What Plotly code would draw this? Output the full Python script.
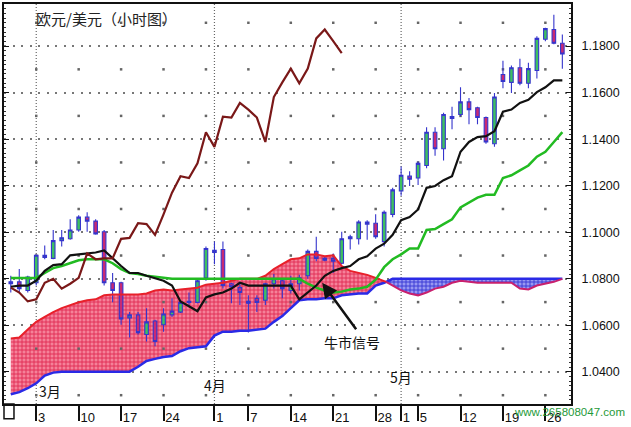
import plotly.graph_objects as go
import pandas as pd

# ---- categories (trading days) ----
dates = [d.strftime("%Y-%m-%d") for d in pd.bdate_range("2003-02-26", "2003-05-28")]

# ---- candles ----
opens = [1.0779, 1.0787, 1.0750, 1.0783, 1.0892, 1.0888, 1.0964, 1.0972, 1.1010, 1.1065,
         1.1048, 1.1002, 1.0783, 1.0783, 1.0632, 1.0645, 1.0561, 1.0619, 1.0603, 1.0645,
         1.0657, 1.0703, 1.0699, 1.0804, 1.0922, 1.0926, 1.0779, 1.0762, 1.0703, 1.0716,
         1.0708, 1.0779, 1.0792, 1.0750, 1.0779, 1.0813, 1.0918, 1.0888, 1.0888, 1.0867,
         1.0972, 1.0972, 1.1044, 1.1039, 1.0960, 1.1077, 1.1178, 1.1241, 1.1233, 1.1287,
         1.1430, 1.1359, 1.1497, 1.1506, 1.1560, 1.1535, 1.1493, 1.1380, 1.1678, 1.1644,
         1.1707, 1.1640, 1.1695, 1.1829, 1.1871, 1.1812]
highs = [1.0813, 1.0842, 1.0813, 1.0905, 1.0943, 1.1010, 1.1010, 1.1056, 1.1073, 1.1086,
         1.1056, 1.1010, 1.0825, 1.0787, 1.0657, 1.0657, 1.0674, 1.0624, 1.0674, 1.0716,
         1.0708, 1.0741, 1.0800, 1.0939, 1.0960, 1.0960, 1.0783, 1.0779, 1.0729, 1.0729,
         1.0783, 1.0821, 1.0800, 1.0813, 1.0817, 1.0926, 1.0981, 1.0897, 1.0909, 1.1002,
         1.0989, 1.1052, 1.1052, 1.1077, 1.1094, 1.1191, 1.1283, 1.1262, 1.1304, 1.1451,
         1.1451, 1.1514, 1.1539, 1.1623, 1.1577, 1.1539, 1.1497, 1.1598, 1.1737, 1.1716,
         1.1745, 1.1728, 1.1842, 1.1879, 1.1934, 1.1850]
lows = [1.0741, 1.0741, 1.0741, 1.0771, 1.0884, 1.0884, 1.0939, 1.0968, 1.1002, 1.1002,
        1.0989, 1.0771, 1.0699, 1.0603, 1.0548, 1.0561, 1.0531, 1.0510, 1.0573, 1.0636,
        1.0653, 1.0678, 1.0695, 1.0792, 1.0863, 1.0758, 1.0695, 1.0687, 1.0569, 1.0657,
        1.0687, 1.0758, 1.0716, 1.0737, 1.0750, 1.0800, 1.0876, 1.0876, 1.0825, 1.0863,
        1.0926, 1.0947, 1.0968, 1.0972, 1.0939, 1.1065, 1.1157, 1.1199, 1.1203, 1.1275,
        1.1329, 1.1308, 1.1443, 1.1497, 1.1464, 1.1464, 1.1380, 1.1367, 1.1619, 1.1598,
        1.1632, 1.1619, 1.1661, 1.1821, 1.1808, 1.1703]
closes = [1.0787, 1.0758, 1.0808, 1.0901, 1.0901, 1.0964, 1.0976, 1.1010, 1.1065, 1.1048,
          1.0993, 1.0783, 1.0750, 1.0628, 1.0645, 1.0569, 1.0615, 1.0531, 1.0649, 1.0661,
          1.0699, 1.0699, 1.0792, 1.0930, 1.0913, 1.0771, 1.0766, 1.0741, 1.0695, 1.0699,
          1.0779, 1.0800, 1.0758, 1.0779, 1.0804, 1.0918, 1.0888, 1.0880, 1.0876, 1.0972,
          1.0981, 1.1044, 1.1035, 1.0981, 1.1086, 1.1182, 1.1245, 1.1228, 1.1296, 1.1430,
          1.1359, 1.1506, 1.1489, 1.1560, 1.1527, 1.1493, 1.1388, 1.1581, 1.1648, 1.1707,
          1.1640, 1.1703, 1.1833, 1.1875, 1.1812, 1.1766]

# ---- Ichimoku lines ----
tenkan = [1.0766, 1.0771, 1.0771, 1.0792, 1.0834, 1.0859, 1.0863, 1.0901, 1.0905, 1.0909,
          1.0913, 1.0922, 1.0888, 1.0855, 1.0825, 1.0825, 1.0813, 1.0804, 1.0792, 1.0771,
          1.0703, 1.0682, 1.0661, 1.0720, 1.0733, 1.0741, 1.0758, 1.0783, 1.0771, 1.0771,
          1.0771, 1.0771, 1.0771, 1.0771, 1.0712, 1.0741, 1.0771, 1.0813, 1.0834, 1.0846,
          1.0855, 1.0884, 1.0897, 1.0930, 1.0951, 1.0989, 1.1052, 1.1065, 1.1098, 1.1191,
          1.1199, 1.1224, 1.1241, 1.1346, 1.1388, 1.1409, 1.1413, 1.1434, 1.1518, 1.1527,
          1.1556, 1.1569, 1.1602, 1.1623, 1.1653, 1.1653]
kijun = [1.0804, 1.0804, 1.0804, 1.0804, 1.0825, 1.0846, 1.0855, 1.0867, 1.0880, 1.0884,
         1.0884, 1.0884, 1.0867, 1.0842, 1.0825, 1.0821, 1.0813, 1.0808, 1.0804, 1.0800,
         1.0800, 1.0800, 1.0800, 1.0800, 1.0800, 1.0800, 1.0800, 1.0800, 1.0800, 1.0800,
         1.0800, 1.0800, 1.0800, 1.0800, 1.0800, 1.0779, 1.0762, 1.0750, 1.0741, 1.0745,
         1.0754, 1.0758, 1.0766, 1.0796, 1.0850, 1.0884, 1.0905, 1.0930, 1.0930, 1.1010,
         1.1014, 1.1035, 1.1056, 1.1107, 1.1128, 1.1149, 1.1161, 1.1161, 1.1233, 1.1245,
         1.1266, 1.1287, 1.1325, 1.1346, 1.1388, 1.1430]
chikou = [1.0762, 1.0741, 1.0703, 1.0712, 1.0783, 1.0800, 1.0758, 1.0779, 1.0804, 1.0909,
          1.0884, 1.0888, 1.0888, 1.0972, 1.0976, 1.1039, 1.1035, 1.0989, 1.1077, 1.1170,
          1.1241, 1.1233, 1.1296, 1.1430, 1.1367, 1.1497, 1.1493, 1.1556, 1.1527, 1.1493,
          1.1388, 1.1581, 1.1644, 1.1703, 1.1640, 1.1703, 1.1833, 1.1871, 1.1821, 1.1770]
span_a = [1.0544, 1.0548, 1.0582, 1.0615, 1.0636, 1.0657, 1.0674, 1.0687, 1.0699, 1.0708,
          1.0712, 1.0729, 1.0733, 1.0733, 1.0733, 1.0733, 1.0737, 1.0750, 1.0754, 1.0750,
          1.0754, 1.0758, 1.0762, 1.0775, 1.0779, 1.0783, 1.0792, 1.0800, 1.0800, 1.0800,
          1.0813, 1.0842, 1.0863, 1.0884, 1.0888, 1.0905, 1.0905, 1.0897, 1.0901, 1.0855,
          1.0834, 1.0825, 1.0817, 1.0804, 1.0792, 1.0771, 1.0750, 1.0737, 1.0729, 1.0741,
          1.0758, 1.0766, 1.0783, 1.0792, 1.0787, 1.0783, 1.0783, 1.0783, 1.0783, 1.0783,
          1.0758, 1.0754, 1.0771, 1.0779, 1.0787, 1.0800]
span_b = [1.0304, 1.0313, 1.0330, 1.0351, 1.0384, 1.0397, 1.0401, 1.0401, 1.0401, 1.0401,
          1.0401, 1.0401, 1.0401, 1.0401, 1.0401, 1.0422, 1.0447, 1.0456, 1.0464, 1.0468,
          1.0489, 1.0502, 1.0506, 1.0510, 1.0556, 1.0573, 1.0573, 1.0577, 1.0577, 1.0582,
          1.0586, 1.0615, 1.0640, 1.0674, 1.0708, 1.0712, 1.0712, 1.0716, 1.0716, 1.0729,
          1.0733, 1.0737, 1.0737, 1.0771, 1.0783, 1.0800, 1.0800, 1.0800, 1.0800, 1.0800,
          1.0800, 1.0800, 1.0800, 1.0800, 1.0800, 1.0800, 1.0800, 1.0800, 1.0800, 1.0800,
          1.0800, 1.0800, 1.0800, 1.0800, 1.0800, 1.0800]

# ---- axis labels ----
tick_dates = ["2003-03-03", "2003-03-10", "2003-03-17", "2003-03-24", "2003-04-01",
              "2003-04-07", "2003-04-14", "2003-04-21", "2003-04-28", "2003-05-01",
              "2003-05-05", "2003-05-12", "2003-05-19", "2003-05-26"]
tick_text = ["3", "10", "17", "24", "1", "7", "14", "21", "28", "1", "5", "12", "19", "26"]
month_starts = ["2003-03-03", "2003-04-01", "2003-05-01"]
month_text = ["3月", "4月", "5月"]
y_ticks = [1.04, 1.06, 1.08, 1.10, 1.12, 1.14, 1.16, 1.18]
mid_levels = [1.03, 1.05, 1.07, 1.09, 1.11, 1.13, 1.15, 1.17, 1.19]

x = list(range(len(dates)))
n = len(dates)
idx = {d: i for i, d in enumerate(dates)}

# crossover of the cloud lines
k = next(i for i in range(1, n) if (span_a[i] - span_b[i]) * (span_a[i - 1] - span_b[i - 1]) < 0)
d0 = span_a[k - 1] - span_b[k - 1]
d1 = span_a[k] - span_b[k]
t = d0 / (d0 - d1)
xc = (k - 1) + t
yc = span_b[k - 1] + t * (span_b[k] - span_b[k - 1])

x1 = x[:k] + [xc]
a1 = span_a[:k] + [yc]
b1 = span_b[:k] + [yc]
x2 = [xc] + x[k:]
a2 = [yc] + span_a[k:]
b2 = [yc] + span_b[k:]

FONT = "Liberation Sans, Arial, sans-serif"
CJK = "Noto Sans CJK SC, sans-serif"
XR = [-0.8, 66.02]
YR = [1.02622, 1.19807]

fig = go.Figure()

# cloud fills (base axes)
fig.add_trace(go.Scatter(x=x1, y=b1, mode="lines", line=dict(width=0), hoverinfo="skip", showlegend=False))
fig.add_trace(go.Scatter(x=x1, y=a1, mode="lines", line=dict(width=0), fill="tonexty",
                         fillcolor="#f27088",
                         fillpattern=dict(shape="+", size=4, solidity=0.4, fgcolor="#e02a52",
                                          bgcolor="#f58299", fillmode="replace"),
                         hoverinfo="skip", showlegend=False))
fig.add_trace(go.Scatter(x=x2, y=b2, mode="lines", line=dict(width=0), hoverinfo="skip", showlegend=False))
fig.add_trace(go.Scatter(x=x2, y=a2, mode="lines", line=dict(width=0), fill="tonexty",
                         fillcolor="#8c8cf0",
                         fillpattern=dict(shape="+", size=4, solidity=0.4, fgcolor="#3434d4",
                                          bgcolor="#9898f2", fillmode="replace"),
                         hoverinfo="skip", showlegend=False))

# grid mid dots (one per Monday)
mondays = [i for i, d in enumerate(dates) if pd.Timestamp(d).weekday() == 0]
fig.add_trace(go.Scatter(x=[m for m in mondays for _ in mid_levels],
                         y=[lv for _ in mondays for lv in mid_levels],
                         mode="markers", marker=dict(size=2.5, color="#666666", symbol="square"),
                         hoverinfo="skip", showlegend=False))

# candles (overlay axes so they sit above the cloud)
fig.add_trace(go.Candlestick(x=x, open=opens, high=highs, low=lows, close=closes,
                             increasing=dict(fillcolor="#3ec060", line=dict(color="#3535cc", width=1.1)),
                             decreasing=dict(fillcolor="#c82a74", line=dict(color="#3535cc", width=1.1)),
                             whiskerwidth=0, hoverinfo="skip", showlegend=False,
                             xaxis="x2", yaxis="y2"))

# cloud lines
fig.add_trace(go.Scatter(x=x, y=span_b, mode="lines", line=dict(color="#2a2ae6", width=2.5),
                         hoverinfo="skip", showlegend=False, xaxis="x2", yaxis="y2"))
fig.add_trace(go.Scatter(x=x1, y=a1, mode="lines", line=dict(color="#e8202a", width=2),
                         hoverinfo="skip", showlegend=False, xaxis="x2", yaxis="y2"))
fig.add_trace(go.Scatter(x=x2, y=a2, mode="lines", line=dict(color="#c8206e", width=2),
                         hoverinfo="skip", showlegend=False, xaxis="x2", yaxis="y2"))
# kijun, tenkan, chikou
fig.add_trace(go.Scatter(x=x, y=kijun, mode="lines", line=dict(color="#22bb22", width=2.5),
                         hoverinfo="skip", showlegend=False, xaxis="x2", yaxis="y2"))
fig.add_trace(go.Scatter(x=x, y=tenkan, mode="lines", line=dict(color="#111111", width=2.2),
                         hoverinfo="skip", showlegend=False, xaxis="x2", yaxis="y2"))
fig.add_trace(go.Scatter(x=x[:len(chikou)], y=chikou, mode="lines", line=dict(color="#7a1818", width=2.2),
                         hoverinfo="skip", showlegend=False, xaxis="x2", yaxis="y2"))

shapes = []
for d in month_starts:
    shapes.append(dict(type="line", xref="x", yref="paper", x0=idx[d], x1=idx[d], y0=0, y1=1,
                       line=dict(color="#666666", width=1.2, dash="1px,2px"), layer="below"))
shapes.append(dict(type="rect", xref="paper", yref="paper", x0=0, x1=0.0176, y0=-0.037, y1=0,
                   line=dict(color="#111111", width=1.5)))

annotations = [
    dict(text="欧元/美元（小时图）", xref="paper", yref="paper", x=0.0528, y=0.9633,
         xanchor="left", yanchor="middle", showarrow=False,
         font=dict(family=CJK, size=15, color="#222222")),
    dict(text="www.265808047.com", xref="paper", yref="paper", x=1.0986, y=-0.0196,
         xanchor="right", yanchor="middle", showarrow=False,
         font=dict(family=FONT, size=11.5, color="#1f9a3a")),
    dict(text="", x=36.7, y=1.0783, ax=35, ay=48, showarrow=True, arrowhead=2,
         arrowsize=1.2, arrowwidth=2.5, arrowcolor="#111111"),
    dict(text="牛市信号", x=40.26, y=1.0527, showarrow=False, xanchor="center", yanchor="middle",
         font=dict(family=CJK, size=14, color="#111111")),
]
month_pos = [(0.0318, "left", 1), (0.0465, "center", 1), (0.0685, "center", 0)]
for d, txt, (py, anc, sh) in zip(month_starts, month_text, month_pos):
    annotations.append(dict(text=txt, x=idx[d], xref="x", y=py, yref="paper", xanchor=anc,
                            yanchor="middle", xshift=sh, showarrow=False,
                            font=dict(family=CJK, size=14, color="#111111")))

fig.update_layout(
    width=631, height=427, autosize=False,
    margin=dict(l=3, r=60, t=2, b=16),
    paper_bgcolor="white", plot_bgcolor="white",
    showlegend=False, hovermode=False,
    boxgap=0.4,
    shapes=shapes, annotations=annotations,
    xaxis=dict(range=XR, tickvals=[idx[d] for d in tick_dates], ticktext=tick_text,
               ticks="outside", ticklen=15, tickwidth=1.5, tickcolor="#111111",
               ticklabelposition="outside right",
               showgrid=False, zeroline=False, showline=True, linecolor="#111111", linewidth=2,
               mirror=True, rangeslider=dict(visible=False),
               tickfont=dict(family=FONT, size=13, color="#111111")),
    yaxis=dict(range=YR, side="right", tickvals=y_ticks, tickformat=".4f",
               ticks="inside", ticklen=5, tickwidth=1, tickcolor="#111111",
               minor=dict(dtick=0.002, ticks="inside", ticklen=2, tickcolor="#333333", showgrid=False),
               showgrid=True, gridcolor="#777777", gridwidth=1.5, griddash="2px,6.5px",
               zeroline=False, showline=True, linecolor="#111111", linewidth=2, mirror="allticks",
               ticklabelstandoff=6,
               tickfont=dict(family=FONT, size=12.5, color="#111111")),
    xaxis2=dict(range=XR, overlaying="x", visible=False, rangeslider=dict(visible=False)),
    yaxis2=dict(range=YR, overlaying="y", visible=False),
)

fig.write_html("out.html", config={"displayModeBar": False},
               post_script="document.body.style.margin='0';")
